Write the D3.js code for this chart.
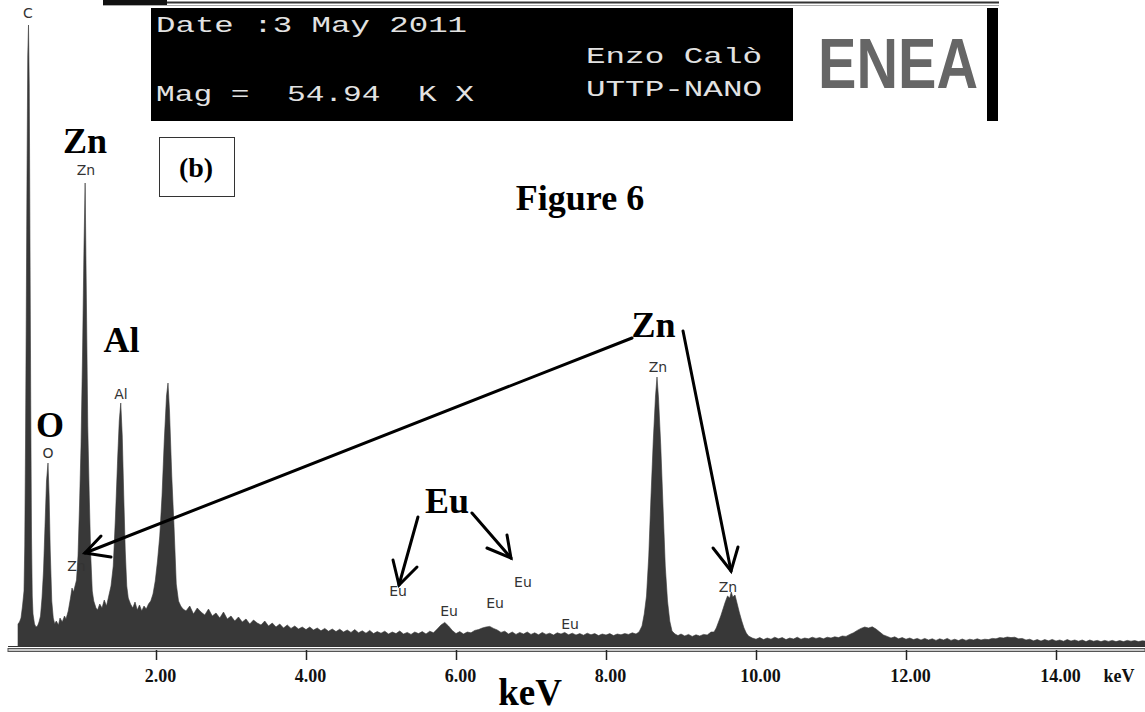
<!DOCTYPE html>
<html><head><meta charset="utf-8">
<script src="https://cdn.jsdelivr.net/npm/d3@7"></script>
<style>html,body{margin:0;padding:0;background:#fff;overflow:hidden}</style>
</head><body><svg id="chart" width="1145" height="712"></svg>
<script>
// ---------- data (keV, counts) ----------
const spectrumLow = [[0.16,110],[0.18,120],[0.20,140],[0.22,200],[0.24,275],[0.25,500],[0.26,1000],[0.27,1650],[0.28,2350],[0.29,2950],[0.30,3105],[0.31,2800],[0.32,2000],[0.33,1200],[0.34,550],[0.35,250],[0.36,160],[0.38,110],[0.40,95],[0.42,100],[0.44,120],[0.46,150],[0.48,240],[0.50,375],[0.52,600],[0.54,825],[0.56,915],[0.575,750],[0.59,475],[0.61,225],[0.63,140],[0.65,110],[0.67,125],[0.70,105],[0.72,140],[0.75,120],[0.78,150],[0.80,135],[0.83,175],[0.86,240],[0.88,290],[0.90,270],[0.92,300],[0.94,330],[0.96,450],[0.98,700],[1.00,1000],[1.02,1450],[1.04,2000],[1.055,2315],[1.07,1800],[1.09,1100],[1.11,750],[1.13,450],[1.15,275],[1.17,225],[1.20,190],[1.22,180],[1.25,210],[1.28,190],[1.31,230],[1.34,200],[1.37,250],[1.40,300],[1.43,400],[1.46,650],[1.49,950],[1.51,1125],[1.53,1215],[1.55,1050],[1.57,750],[1.59,475],[1.61,300],[1.63,240],[1.66,210],[1.69,190],[1.72,220],[1.75,180],[1.78,205],[1.81,175],[1.84,200],[1.87,185],[1.90,210],[1.93,225],[1.96,260],[1.99,325],[2.02,425],[2.05,550],[2.08,750],[2.11,1025],[2.14,1250],[2.16,1315],[2.18,1175],[2.21,850],[2.24,600],[2.27,310],[2.30,225],[2.33,200],[2.36,185]];
const spectrumMid = [[2.40,175],[2.45,200],[2.50,160],[2.55,190],[2.60,170],[2.65,155],[2.70,185],[2.75,150],[2.80,165],[2.85,140],[2.90,170],[2.95,135],[3.00,150],[3.05,125],[3.10,145],[3.15,120],[3.20,135],[3.25,110],[3.30,130],[3.35,115],[3.40,105],[3.45,125],[3.50,100],[3.55,115],[3.60,95],[3.65,110],[3.70,90],[3.75,105],[3.80,88],[3.85,100],[3.90,85],[3.95,95],[4.00,82],[4.05,95],[4.10,80],[4.15,90],[4.20,76],[4.25,88],[4.30,74],[4.35,85],[4.40,72],[4.45,84],[4.50,70],[4.55,80],[4.60,68],[4.65,82],[4.70,66],[4.75,76],[4.80,64],[4.85,78],[4.90,62],[4.95,72],[5.00,64],[5.05,74],[5.10,60],[5.15,70],[5.20,62],[5.25,75],[5.30,60],[5.35,68],[5.40,58],[5.45,70],[5.50,62],[5.55,72],[5.60,60],[5.65,74],[5.70,66],[5.75,85],[5.80,105],[5.85,118],[5.90,100],[5.95,78],[6.00,62],[6.05,72],[6.10,60],[6.15,70],[6.20,66],[6.25,78],[6.30,82],[6.35,90],[6.40,95],[6.45,98],[6.50,88],[6.55,80],[6.60,68],[6.65,74],[6.70,60],[6.75,70],[6.80,58],[6.85,68],[6.90,60],[6.95,70],[7.00,58],[7.05,66],[7.10,56],[7.15,68],[7.20,58],[7.25,64],[7.30,55],[7.35,66],[7.40,60],[7.45,68],[7.50,56],[7.55,64],[7.60,55],[7.65,62],[7.70,54],[7.75,64],[7.80,56],[7.85,62],[7.90,52],[7.95,60],[8.00,55],[8.05,62],[8.10,52],[8.15,60],[8.20,56],[8.25,62],[8.30,58],[8.35,66]];
const spectrumZnK = [[8.40,60],[8.44,70],[8.48,100],[8.51,160],[8.54,250],[8.57,450],[8.60,750],[8.63,1025],[8.66,1250],[8.68,1345],[8.70,1240],[8.73,1000],[8.76,700],[8.79,400],[8.82,225],[8.85,125],[8.88,75],[8.92,60],[8.96,52],[9.00,60],[9.05,50],[9.10,58],[9.15,48],[9.20,56],[9.25,50],[9.30,58],[9.35,55],[9.40,70],[9.44,70],[9.47,90],[9.50,120],[9.53,150],[9.56,185],[9.59,220],[9.62,250],[9.65,240],[9.67,270],[9.69,245],[9.72,255],[9.75,210],[9.78,165],[9.81,125],[9.84,90],[9.87,65],[9.90,50]];
const spectrumHigh = [[9.95,40],[10.00,34],[10.05,42],[10.10,32],[10.15,40],[10.20,34],[10.25,44],[10.30,36],[10.35,42],[10.40,32],[10.45,40],[10.50,35],[10.55,44],[10.60,34],[10.65,40],[10.70,36],[10.75,44],[10.80,38],[10.85,42],[10.90,36],[10.95,44],[11.00,40],[11.05,46],[11.10,42],[11.15,50],[11.20,48],[11.25,58],[11.30,66],[11.35,78],[11.40,88],[11.45,95],[11.50,90],[11.55,96],[11.60,85],[11.65,70],[11.70,55],[11.75,48],[11.80,40],[11.85,46],[11.90,36],[11.95,42],[12.00,34],[12.05,40],[12.10,32],[12.15,38],[12.20,30],[12.25,38],[12.30,30],[12.35,36],[12.40,28],[12.45,36],[12.50,30],[12.55,38],[12.60,28],[12.65,34],[12.70,27],[12.75,35],[12.80,28],[12.85,34],[12.90,30],[12.95,36],[13.00,30],[13.05,34],[13.10,32],[13.15,38],[13.20,36],[13.25,42],[13.30,40],[13.35,45],[13.40,42],[13.45,44],[13.50,36],[13.55,38],[13.60,30],[13.65,34],[13.70,26],[13.75,32],[13.80,25],[13.85,32],[13.90,26],[13.95,33],[14.00,25],[14.05,30],[14.10,24],[14.15,32],[14.20,25],[14.25,30],[14.30,24],[14.35,30],[14.40,22],[14.45,30],[14.50,24],[14.55,28],[14.60,22],[14.65,28],[14.70,23],[14.75,28],[14.80,22],[14.85,27],[14.90,22],[14.95,28],[15.00,24],[15.05,27],[15.10,22],[15.15,26],[15.20,24]];

const tickValues = [2, 4, 6, 8, 10, 12, 14];
const tickLabels = ["2.00", "4.00", "6.00", "8.00", "10.00", "12.00", "14.00"];

// small peak labels from the instrument [text, keV, counts(baseline)]
const peakLabels = [["C",0.293,3140],["Zn",1.067,2355],["O",0.56,940],["Al",1.533,1235],["Zn",0.94,375],["Zn",8.693,1370],["Zn",9.627,270],
  ["Eu",5.227,250],["Eu",5.907,150],["Eu",6.52,190],["Eu",6.893,295],["Eu",7.52,85]];
// large annotation labels [text, keV, counts(baseline)]
const bigLabels = [["Zn",1.053,2465],["Al",1.54,1470],["O",0.587,1045],["Zn",8.633,1545],["Eu",5.88,665]];
// annotation arrows [start, tip, wing1, wing2] as [keV, counts]
const arrows = [
  [[8.347,1540],[1.053,465],[1.267,550],[1.40,445]],
  [[9.027,1575],[9.667,375],[9.427,490],[9.76,495]],
  [[5.493,645],[5.24,305],[5.16,430],[5.48,395]],
  [[6.213,665],[6.733,440],[6.413,490],[6.68,555]]
];
const headerLeft = ["Date :3 May 2011", "Mag =  54.94  K X"];
const headerRight = ["Enzo Calò", "UTTP-NANO"];

// ---------- drawing ----------
const svg = d3.select("#chart");
const x = d3.scaleLinear().domain([0, 15.2]).range([6, 1146]);
const y = d3.scaleLinear().domain([0, 3230]).range([646, 0]);

const spectrum = spectrumLow.concat(spectrumMid, spectrumZnK, spectrumHigh);

// baseline
svg.append("line").attr("x1", 8).attr("x2", 1145).attr("y1", 646.5).attr("y2", 646.5)
  .attr("stroke", "#333").attr("stroke-width", 1);

svg.append("path").datum(spectrum)
  .attr("d", d3.area().x(d => x(d[0])).y0(y(0)).y1(d => y(d[1])))
  .attr("fill", "#383838").attr("stroke", "#383838").attr("stroke-width", 0.6);

// axis: double line
svg.append("rect").attr("x", 8).attr("y", 648.5).attr("width", 1137).attr("height", 3)
  .attr("fill", "#c8c8c8").attr("stroke", "#555").attr("stroke-width", 1);

const ax = svg.append("g").attr("transform", "translate(0,650)")
  .call(d3.axisBottom(x).tickValues(tickValues).tickFormat((d, i) => tickLabels[i]).tickSize(10));
ax.select(".domain").remove();
ax.selectAll(".tick line").attr("stroke", "#222").attr("stroke-width", 1.5);
ax.selectAll(".tick text").attr("y", 32).attr("dy", 0).attr("dx", 4)
  .attr("font-family", "Liberation Serif, serif").attr("font-weight", "bold")
  .attr("font-size", 18).attr("fill", "#111");
svg.append("text").attr("x", 1119).attr("y", 682).attr("text-anchor", "middle")
  .attr("font-family", "Liberation Serif, serif").attr("font-weight", "bold")
  .attr("font-size", 18).attr("fill", "#111").text("keV");

// axis title
svg.append("text").attr("x", 530).attr("y", 705).attr("text-anchor", "middle")
  .attr("font-family", "Liberation Serif, serif").attr("font-weight", "bold")
  .attr("font-size", 37).attr("fill", "#000").text("keV");

// small peak labels
svg.selectAll("text.pk").data(peakLabels).join("text").attr("class", "pk")
  .attr("x", d => x(d[1])).attr("y", d => y(d[2])).attr("text-anchor", "middle")
  .attr("font-family", "DejaVu Sans, sans-serif").attr("font-size", 14).attr("fill", "#333")
  .text(d => d[0]);

// big labels
svg.selectAll("text.big").data(bigLabels).join("text").attr("class", "big")
  .attr("x", d => x(d[1])).attr("y", d => y(d[2])).attr("text-anchor", "middle")
  .attr("font-family", "Liberation Serif, serif").attr("font-weight", "bold")
  .attr("font-size", 36).attr("fill", "#000").text(d => d[0]);

// arrows
const ag = svg.append("g").attr("stroke", "#000").attr("stroke-width", 3).attr("stroke-linecap", "round").attr("fill", "none");
arrows.forEach(a => {
  const p = a.map(d => [x(d[0]), y(d[1])]);
  ag.append("path").attr("d", d3.line()([p[0], p[1]]));
  ag.append("path").attr("d", d3.line()([p[2], p[1], p[3]])).attr("stroke-linejoin", "miter");
});

// Figure title
svg.append("text").attr("x", 580).attr("y", 210).attr("text-anchor", "middle")
  .attr("font-family", "Liberation Serif, serif").attr("font-weight", "bold")
  .attr("font-size", 36).attr("fill", "#000").text("Figure 6");

// (b) box
svg.append("rect").attr("x", 159.5).attr("y", 137.5).attr("width", 75).attr("height", 59)
  .attr("fill", "#fff").attr("stroke", "#333").attr("stroke-width", 1);
svg.append("text").attr("x", 196).attr("y", 177).attr("text-anchor", "middle")
  .attr("font-family", "Liberation Serif, serif").attr("font-weight", "bold")
  .attr("font-size", 28).attr("fill", "#000").text("(b)");

// header frame
svg.append("rect").attr("x", 103).attr("y", 0).attr("width", 64).attr("height", 5).attr("fill", "#111");
svg.append("line").attr("x1", 167).attr("x2", 999).attr("y1", 2.5).attr("y2", 2.5).attr("stroke", "#333").attr("stroke-width", 2);
svg.append("line").attr("x1", 103).attr("x2", 999).attr("y1", 5.5).attr("y2", 5.5).attr("stroke", "#aaa").attr("stroke-width", 1);
svg.append("rect").attr("x", 151).attr("y", 8).attr("width", 642).attr("height", 113).attr("fill", "#000");
svg.append("rect").attr("x", 987).attr("y", 8).attr("width", 11).attr("height", 113).attr("fill", "#000");

const mono = "Liberation Mono, DejaVu Sans Mono, monospace";
svg.selectAll("text.hl").data(headerLeft).join("text").attr("class", "hl")
  .attr("x", 156).attr("y", (d, i) => i ? 101 : 32)
  .attr("textLength", (d, i) => i ? 318 : 311).attr("lengthAdjust", "spacingAndGlyphs")
  .style("white-space", "pre")
  .attr("font-family", mono).attr("font-size", 22).attr("fill", "#e2e2e2").text(d => d);
svg.selectAll("text.hr").data(headerRight).join("text").attr("class", "hr")
  .attr("x", 586).attr("y", (d, i) => i ? 96 : 63)
  .attr("textLength", 176).attr("lengthAdjust", "spacingAndGlyphs")
  .attr("font-family", mono).attr("font-size", 22).attr("fill", "#e2e2e2").text(d => d);

// ENEA logo
svg.append("text").attr("x", 818).attr("y", 88)
  .attr("textLength", 160).attr("lengthAdjust", "spacingAndGlyphs")
  .attr("font-family", "Liberation Sans, Arial, sans-serif").attr("font-weight", "bold")
  .attr("font-size", 70).attr("fill", "#666").text("ENEA");
</script>
</body></html>
